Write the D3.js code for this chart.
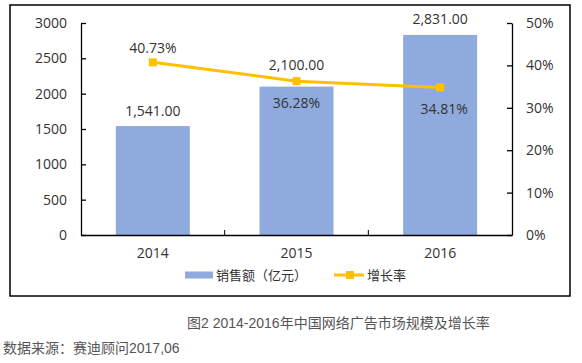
<!DOCTYPE html>
<html>
<head>
<meta charset="utf-8">
<script src="https://cdn.jsdelivr.net/npm/d3@7"></script>
<style>
  body { margin: 0; background: #fff; }
  svg text { font-family: "Open Sans", "Noto Sans CJK SC", sans-serif; fill: #333; }
  .caption { font-family: "Liberation Sans", "Noto Sans CJK SC", sans-serif !important; fill: #555 !important; }
</style>
</head>
<body>
<svg id="chart" width="582" height="363"></svg>
<script>
var years = ["2014", "2015", "2016"];
var sales = [1541, 2100, 2831];
var growth = [0.4073, 0.3628, 0.3481];
var leftTicks = [0, 500, 1000, 1500, 2000, 2500, 3000];
var rightTicks = [0, 0.1, 0.2, 0.3, 0.4, 0.5];
var seriesNames = ["销售额（亿元）", "增长率"];
var title = "图2 2014-2016年中国网络广告市场规模及增长率";
var source = "数据来源：赛迪顾问2017,06";

var barColor = "#8FAADC", lineColor = "#FFC000";

var svg = d3.select("#chart");

// frame around the chart
svg.append("rect")
    .attr("x", 10).attr("y", 5)
    .attr("width", 560).attr("height", 291)
    .attr("fill", "none").attr("stroke", "#000").attr("stroke-width", 1.5);

var plotLeft = 81, plotRight = 512, plotTop = 23, plotBottom = 235;

var x = d3.scaleBand().domain(years).range([plotLeft, plotRight])
    .paddingInner(0.485).paddingOuter(0.2425);
var y = d3.scaleLinear().domain([0, 3000]).range([plotBottom, plotTop]);
var y2 = d3.scaleLinear().domain([0, 0.5]).range([plotBottom, plotTop]);

// bars
svg.append("g").selectAll("rect")
    .data(years)
    .join("rect")
    .attr("x", d => x(d))
    .attr("y", (d, i) => y(sales[i]))
    .attr("width", x.bandwidth())
    .attr("height", (d, i) => y(0) - y(sales[i]))
    .attr("fill", barColor);

// axes
var gl = svg.append("g").attr("transform", `translate(${plotLeft},0)`)
    .call(d3.axisLeft(y).tickValues(leftTicks).tickFormat(d3.format("d"))
        .tickSizeInner(-5).tickSizeOuter(0).tickPadding(14));
var gr = svg.append("g").attr("transform", `translate(${plotRight},0)`)
    .call(d3.axisRight(y2).tickValues(rightTicks).tickFormat(d3.format(".0%"))
        .tickSizeInner(-5).tickSizeOuter(0).tickPadding(14));
var gb = svg.append("g").attr("transform", `translate(0,${plotBottom})`)
    .call(d3.axisBottom(x).tickSize(0).tickPadding(13));

// separator ticks between categories
var step = x.step();
svg.append("g").selectAll("line")
    .data(years.slice(1))
    .join("line")
    .attr("x1", d => x(d) - step * x.paddingInner() / 2)
    .attr("x2", d => x(d) - step * x.paddingInner() / 2)
    .attr("y1", plotBottom).attr("y2", plotBottom - 5)
    .attr("stroke", "#000");

[gl, gr, gb].forEach(g => {
    g.selectAll("path, line").attr("stroke", "#000").attr("stroke-width", 1.3);
    g.selectAll("text").style("font-size", "14px").attr("fill", "#333");
});

// growth line
var cx = d => x(d) + x.bandwidth() / 2;
var line = d3.line().x((d, i) => cx(years[i])).y(d => y2(d));
svg.append("path")
    .datum(growth)
    .attr("d", line)
    .attr("fill", "none")
    .attr("stroke", lineColor)
    .attr("stroke-width", 3);
svg.append("g").selectAll("rect")
    .data(growth)
    .join("rect")
    .attr("x", (d, i) => cx(years[i]) - 4)
    .attr("y", d => y2(d) - 4)
    .attr("width", 8).attr("height", 8)
    .attr("fill", lineColor);

// bar value labels: above bar, or above the marker when the line sits on the bar top
svg.append("g").selectAll("text")
    .data(sales)
    .join("text")
    .attr("x", (d, i) => cx(years[i]))
    .attr("y", (d, i) => {
        var top = y(d), m = y2(growth[i]);
        if (Math.abs(top - m) < 15) return Math.min(top, m) - 17;
        return top - 16;
    })
    .attr("text-anchor", "middle")
    .attr("dominant-baseline", "central")
    .style("font-size", "14px")
    .text(d => d3.format(",.2f")(d));

// growth labels: first above the marker, rest below
svg.append("g").selectAll("text")
    .data(growth)
    .join("text")
    .attr("x", (d, i) => cx(years[i]) + (i == 2 ? 4 : 0))
    .attr("y", (d, i) => y2(d) + (i == 0 ? -15 : 21))
    .attr("text-anchor", "middle")
    .attr("dominant-baseline", "central")
    .style("font-size", "14px")
    .text(d => d3.format(".2%")(d));

// legend
var lg = svg.append("g").attr("transform", "translate(185,275)");
lg.append("rect").attr("x", 0).attr("y", -3.5).attr("width", 28).attr("height", 7).attr("fill", barColor);
lg.append("text").attr("x", 31).attr("y", 0).attr("dominant-baseline", "central")
    .style("font-size", "13px").text(seriesNames[0]);
lg.append("line").attr("x1", 149).attr("x2", 179).attr("y1", 0).attr("y2", 0)
    .attr("stroke", lineColor).attr("stroke-width", 3);
lg.append("rect").attr("x", 161).attr("y", -4).attr("width", 8).attr("height", 8).attr("fill", lineColor);
lg.append("text").attr("x", 182).attr("y", 0).attr("dominant-baseline", "central")
    .style("font-size", "13px").text(seriesNames[1]);

// caption and source
svg.append("text").attr("class", "caption")
    .attr("x", 187).attr("y", 323).attr("dominant-baseline", "central")
    .style("font-size", "14px").text(title);
svg.append("text").attr("class", "caption")
    .attr("x", 3).attr("y", 348).attr("dominant-baseline", "central")
    .style("font-size", "14px").text(source);
</script>
</body>
</html>
